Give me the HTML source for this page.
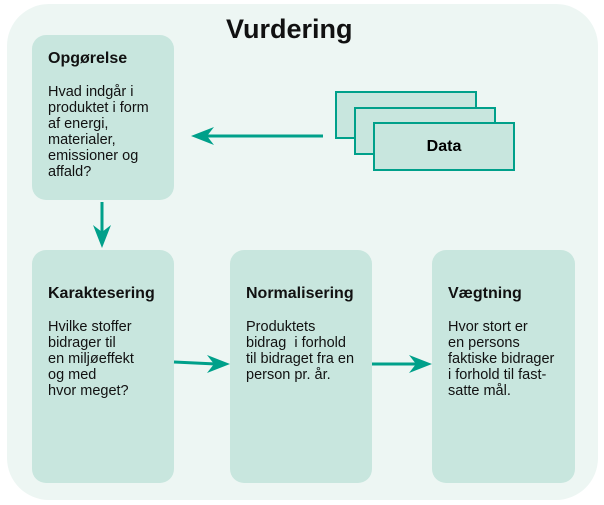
<html><head><style>
body{margin:0;width:604px;height:505px;background:#fff;position:relative;font-family:"Liberation Sans",sans-serif;overflow:hidden}
.bg{position:absolute;left:7px;top:4px;width:591px;height:496px;background:#edf6f3;border-radius:42px}
.box{position:absolute;background:#c8e6de;border-radius:14px;box-sizing:border-box;padding:15px 0 0 16px;color:#111}
.box h3{margin:0 0 16px;font-size:16px;font-weight:bold}
.box p{margin:0;font-size:14.5px;line-height:16px;white-space:nowrap}
.d{position:absolute;width:142px;height:48px;background:#c8e6de;border:2px solid #00a08a;box-sizing:border-box}
</style></head><body>
<div class="bg"></div>
<div style="position:absolute;left:226px;top:14px;font-size:27px;font-weight:bold;color:#111">Vurdering</div>
<div class="box" style="left:32px;top:35px;width:142px;height:165px"><h3>Opgørelse</h3><p>Hvad indgår i<br>produktet i form<br>af energi,<br>materialer,<br>emissioner og<br>affald?</p></div>
<div class="box" style="left:32px;top:250px;width:142px;height:233px;padding-top:35px"><h3>Karaktesering</h3><p>Hvilke stoffer<br>bidrager til<br>en miljøeffekt<br>og med<br>hvor meget?</p></div>
<div class="box" style="left:230px;top:250px;width:142px;height:233px;padding-top:35px"><h3>Normalisering</h3><p>Produktets<br>bidrag&nbsp; i forhold<br>til bidraget fra en<br>person pr. år.</p></div>
<div class="box" style="left:432px;top:250px;width:143px;height:233px;padding-top:35px"><h3>Vægtning</h3><p>Hvor stort er<br>en persons<br>faktiske bidrager<br>i forhold til fast-<br>satte mål.</p></div>
<div class="d" style="left:335px;top:91px"></div>
<div class="d" style="left:354px;top:107px"></div>
<div class="d" style="left:373px;top:122px;height:49px;text-align:center;line-height:45px;font-weight:bold;font-size:16px">Data</div>
<svg width="604" height="505" style="position:absolute;left:0;top:0">
<g stroke="#00a08a" stroke-width="3" fill="#00a08a">
<line x1="323" y1="136" x2="205" y2="136"/><polygon points="191,136 214,127 207,136 214,145" stroke="none"/>
<line x1="102" y1="202" x2="102" y2="234"/><polygon points="102,248 93,225 102,232 111,225" stroke="none"/>
<line x1="174" y1="362" x2="216" y2="364"/><polygon points="230,364 207,355 214,364 207,373" stroke="none"/>
<line x1="372" y1="364" x2="418" y2="364"/><polygon points="432,364 409,355 416,364 409,373" stroke="none"/>
</g></svg>
</body></html>
